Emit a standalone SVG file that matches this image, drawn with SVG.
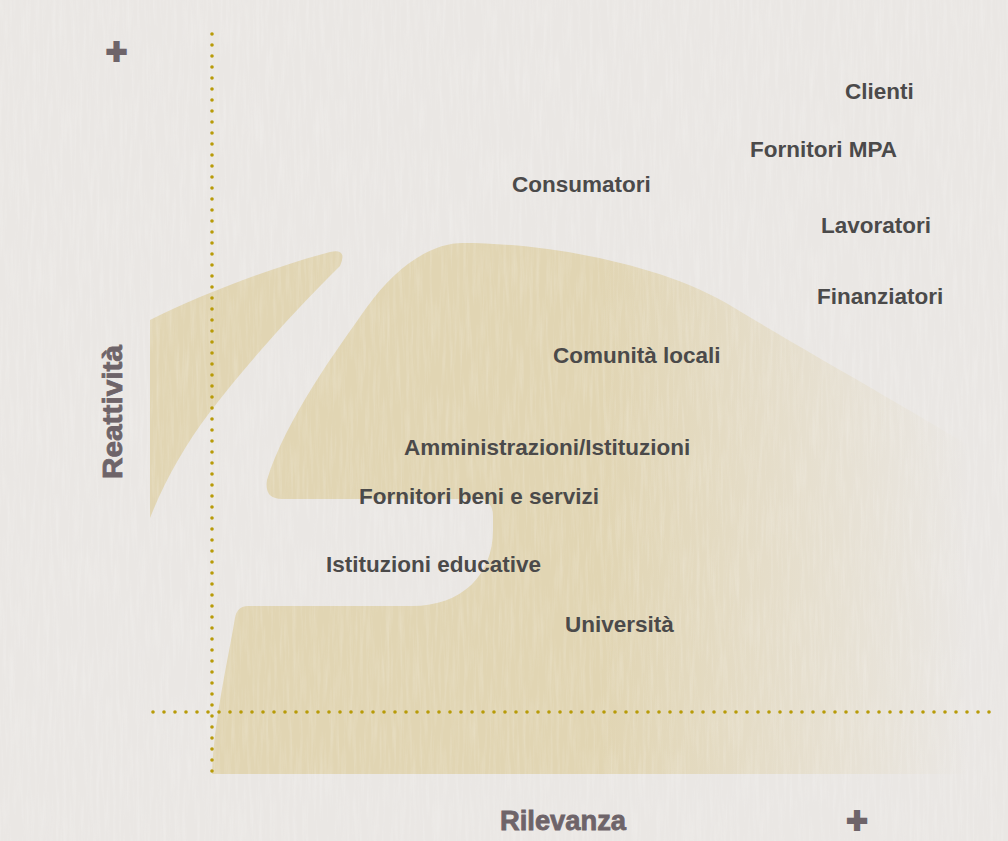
<svg xmlns="http://www.w3.org/2000/svg" width="1008" height="841" viewBox="0 0 1008 841">
  <defs>
    <style>
      .lbl { font-family: "Liberation Sans", Arial, sans-serif; font-weight: bold; font-size: 22.5px; fill: #4b4a4a; }
      .axis-lbl { font-family: "Liberation Sans", Arial, sans-serif; font-weight: bold; font-size: 27px; fill: #6e6469; stroke: #6e6469; stroke-width: 0.8; }
      .plus { font-family: "Liberation Sans", Arial, sans-serif; font-weight: bold; font-size: 36px; fill: #6e6469; stroke: #6e6469; stroke-width: 2.2; text-anchor: middle; }
      .dots { stroke: #b89b08; stroke-width: 3.6; stroke-linecap: round; stroke-dasharray: 0 11; fill: none; }
      .zone { fill: #e1d5b3; }
    </style>
    <linearGradient id="zoneFade" gradientUnits="userSpaceOnUse" x1="600" y1="0" x2="970" y2="0">
      <stop offset="0" stop-color="#e1d5b3" stop-opacity="1"/>
      <stop offset="0.55" stop-color="#e1d5b3" stop-opacity="0.45"/>
      <stop offset="1" stop-color="#e1d5b3" stop-opacity="0"/>
    </linearGradient>
    <filter id="paper" x="0" y="0" width="100%" height="100%">
      <feTurbulence type="fractalNoise" baseFrequency="0.3 0.02" numOctaves="3" seed="7" result="n"/>
      <feColorMatrix in="n" type="matrix" values="0 0 0 0 1  0 0 0 0 1  0 0 0 0 1  1.2 0 0 0 -0.5"/>
    </filter>
  </defs>

  <!-- paper background -->
  <rect width="1008" height="841" fill="#eae7e4"/>

  <!-- tinted zones -->
  <g id="zones">
    <path id="zone-left" class="zone" d="M150,320 C200,295 270,268 330,252 Q348,248 340,266 C300,305 250,360 210,412 C185,445 165,480 150,518 Z"/>
    <path id="zone-main" fill="url(#zoneFade)" d="M282,499 L476,499 Q493,499 493,516 L493,530 C493,575 462,606 412,606 L248,606 Q237,606 235,618 C228,660 214,720 212,774 L1008,774 L1008,470 C930,420 805,351 733,307 C660,262 540,243 463,243 C430,243 395,268 367,307 C340,345 285,420 267,480 Q264,499 282,499 Z"/>
  </g>

  <!-- paper grain over everything -->
  <rect width="1008" height="841" filter="url(#paper)" opacity="0.3"/>

  <!-- dotted axes -->
  <g id="axes">
    <line class="dots" x1="212" y1="34" x2="212" y2="773"/>
    <line class="dots" x1="153" y1="712" x2="1000" y2="712"/>
  </g>

  <!-- axis captions -->
  <g id="axis-y">
    <text class="axis-lbl" transform="translate(122,479) rotate(-90)" textLength="134" lengthAdjust="spacingAndGlyphs">Reattività</text>
    <text class="plus" x="116.5" y="64">+</text>
  </g>
  <g id="axis-x">
    <text class="axis-lbl" x="500" y="830" textLength="126" lengthAdjust="spacingAndGlyphs">Rilevanza</text>
    <text class="plus" x="857" y="833.3">+</text>
  </g>

  <!-- stakeholders -->
  <g id="stakeholders">
    <g id="clienti"><text class="lbl" x="845" y="99">Clienti</text></g>
    <g id="fornitori-mpa"><text class="lbl" x="750" y="157">Fornitori MPA</text></g>
    <g id="consumatori"><text class="lbl" x="512" y="192">Consumatori</text></g>
    <g id="lavoratori"><text class="lbl" x="821" y="233">Lavoratori</text></g>
    <g id="finanziatori"><text class="lbl" x="817" y="304">Finanziatori</text></g>
    <g id="comunita-locali"><text class="lbl" x="553" y="363">Comunità locali</text></g>
    <g id="amministrazioni"><text class="lbl" x="404" y="455">Amministrazioni/Istituzioni</text></g>
    <g id="fornitori-beni"><text class="lbl" x="359" y="504">Fornitori beni e servizi</text></g>
    <g id="istituzioni-educative"><text class="lbl" x="326" y="572">Istituzioni educative</text></g>
    <g id="universita"><text class="lbl" x="565" y="632">Università</text></g>
  </g>
</svg>
